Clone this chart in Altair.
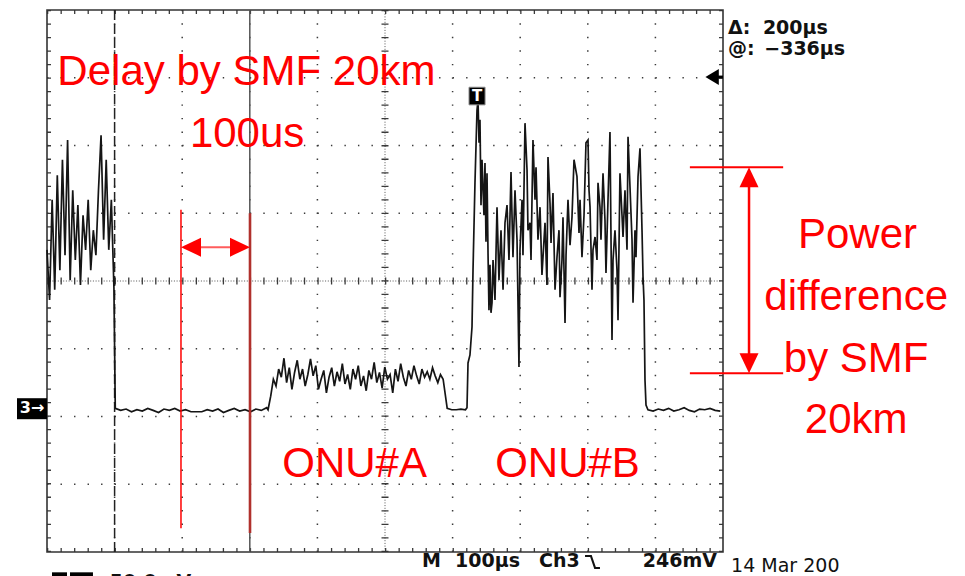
import altair as alt
import pandas as pd
import numpy as np

# ---------------- data (time in µs, level in screen divisions 0..8) ----------------
BURST_SPAN = (0, 99)
BURST = [4.46, 3.72, 5.20, 3.87, 5.56, 4.16, 5.79, 4.38, 6.08, 4.01, 5.34, 4.31, 5.12,
         3.94, 4.97, 4.46, 5.20, 4.16, 4.75, 4.38, 5.34, 6.15, 4.61, 5.79, 4.46, 5.20, 3.90]
GAP1_SPAN = (101, 325)
GAP1 = [2.12, 2.09, 2.11, 2.07, 2.10, 2.08, 2.12, 2.09, 2.06, 2.11, 2.09, 2.12, 2.08, 2.10,
        2.07, 2.07, 2.07, 2.10, 2.08, 2.11, 2.06, 2.09, 2.12, 2.08, 2.10, 2.07, 2.11, 2.09, 2.13]
ONU_A_SPAN = (327, 586)
ONU_A = [2.10, 2.30, 2.55, 2.45, 2.70, 2.58, 2.86, 2.50, 2.72, 2.40, 2.65, 2.83, 2.55, 2.70,
         2.45, 2.62, 2.85, 2.60, 2.75, 2.40, 2.55, 2.68, 2.35, 2.58, 2.72, 2.45, 2.66, 2.52,
         2.78, 2.48, 2.62, 2.40, 2.70, 2.55, 2.75, 2.45, 2.60, 2.38, 2.68, 2.55, 2.80, 2.50,
         2.65, 2.42, 2.73, 2.55, 2.62, 2.35, 2.70, 2.52, 2.78, 2.58, 2.45, 2.68, 2.55, 2.75,
         2.60, 2.48, 2.70, 2.58, 2.66, 2.55, 2.72, 2.60, 2.50, 2.62, 2.55]
GAP2_SPAN = (592, 619)
GAP2 = [2.12, 2.10, 2.10, 2.11, 2.10]
ONU_B = [(621.3, 2.13), (622.8, 2.79), (625.7, 2.91), (628.7, 3.32), (630.2, 4.16),
         (633.1, 5.45), (636.1, 6.52), (637.6, 6.67), (639.1, 6.04), (640.5, 6.38),
         (642.0, 5.12), (643.5, 5.79), (646.4, 4.97), (647.9, 5.74), (649.4, 4.58),
         (650.9, 5.59), (652.4, 4.41), (653.8, 3.57), (655.3, 4.24), (656.8, 3.53),
         (658.3, 3.68), (659.8, 4.31), (662.7, 3.72), (665.7, 5.09), (668.6, 4.01),
         (671.6, 4.75), (674.6, 3.87), (677.5, 4.86), (680.5, 5.12), (683.4, 4.31),
         (686.4, 5.61), (689.3, 4.35), (692.3, 5.34), (695.3, 4.61), (698.2, 2.73),
         (699.7, 4.46), (702.7, 5.20), (704.1, 4.38), (707.1, 6.33), (710.1, 5.64),
         (711.5, 4.75), (714.5, 4.86), (716.0, 4.31), (718.9, 6.08), (721.9, 5.20),
         (723.4, 5.68), (726.3, 4.61), (729.3, 5.09), (732.2, 4.09), (736.7, 4.86),
         (739.6, 3.94), (741.1, 5.83), (744.1, 5.15), (745.6, 4.56), (748.5, 5.30),
         (751.5, 3.87), (754.4, 4.35), (757.4, 4.75), (758.9, 3.76), (761.8, 4.31),
         (763.3, 4.94), (766.3, 3.38), (767.8, 4.38), (770.7, 5.20), (773.7, 4.53),
         (776.6, 4.94), (779.6, 5.79), (784.0, 5.54), (787.0, 4.71), (788.5, 5.20),
         (791.4, 4.35), (794.4, 4.97), (797.3, 6.04), (800.3, 6.08), (801.8, 5.34),
         (803.3, 5.09), (806.2, 3.87), (807.7, 4.46), (810.7, 4.65), (813.6, 4.31),
         (815.1, 5.45), (818.0, 5.09), (819.5, 4.61), (822.5, 5.59), (825.4, 4.90),
         (826.9, 4.12), (829.9, 5.20), (832.8, 6.20), (835.8, 3.13), (837.3, 4.31),
         (840.2, 4.75), (843.2, 4.16), (844.7, 3.42), (847.6, 5.59), (850.6, 4.97),
         (852.1, 4.65), (855.0, 5.34), (858.0, 4.46), (859.5, 6.13), (862.4, 5.39),
         (865.4, 4.61), (866.9, 3.68), (869.8, 4.75), (871.3, 4.35), (874.3, 5.54),
         (877.2, 5.96), (880.2, 4.75), (881.7, 4.06), (883.1, 3.72), (884.6, 2.54),
         (886.1, 2.17)]
GAP3_SPAN = (889, 996)
GAP3 = [2.10, 2.08, 2.11, 2.09, 2.12, 2.08, 2.10, 2.13, 2.09, 2.07, 2.11, 2.10, 2.12, 2.09, 2.08]

V_GRID = [100, 200, 300, 400, 600, 700, 800, 900]
H_GRID = [1, 2, 3, 5, 6, 7]
CURSORS = [100, 300]

RED_TEXT = ["Delay by SMF 20km", "100us", "Power", "difference", "by SMF", "20km", "ONU#A", "ONU#B"]
SCOPE_TEXT = ["Δ:", "200µs", "@:", "−336µs", "M", "100µs", "Ch3", "246mV", "14 Mar 200", "50.0mV"]

# ---------------- build trace ----------------
rows = []
def seg(span, vals):
    ts = np.linspace(span[0], span[1], len(vals))
    for t, v in zip(ts, vals):
        rows.append((float(t), v))
seg(BURST_SPAN, BURST)
seg(GAP1_SPAN, GAP1)
seg(ONU_A_SPAN, ONU_A)
seg(GAP2_SPAN, GAP2)
rows.extend(ONU_B)
seg(GAP3_SPAN, GAP3)
trace = pd.DataFrame(rows, columns=["t", "v"])
trace["i"] = range(len(trace))

XS = alt.Scale(domain=[0, 1000], nice=False, zero=False)
YS = alt.Scale(domain=[0, 8], nice=False, zero=False)

def X(f):
    return alt.X(f, type="quantitative", scale=XS, axis=None)

def Y(f):
    return alt.Y(f, type="quantitative", scale=YS, axis=None)

def vrules(ts, a, b, **mk):
    df = pd.DataFrame({"t": ts, "a": a, "b": b})
    return alt.Chart(df).mark_rule(**mk).encode(x=X("t"), y=Y("a"), y2=alt.Y2("b"))

def hrules(ds, a, b, **mk):
    df = pd.DataFrame({"d": ds, "a": a, "b": b})
    return alt.Chart(df).mark_rule(**mk).encode(y=Y("d"), x=X("a"), x2=alt.X2("b"))

def label(text, t, d, **mk):
    df = pd.DataFrame({"t": [t], "d": [d], "s": [text]})
    return alt.Chart(df).mark_text(**mk).encode(x=X("t"), y=Y("d"), text="s:N")

def point(t, d, **mk):
    df = pd.DataFrame({"t": [t], "d": [d]})
    return alt.Chart(df).mark_point(**mk).encode(x=X("t"), y=Y("d"))

def box(t0, t1, d0, d1, **mk):
    df = pd.DataFrame({"a": [t0], "b": [t1], "c": [d0], "e": [d1]})
    return alt.Chart(df).mark_rect(**mk).encode(x=X("a"), x2=alt.X2("b"), y=Y("c"), y2=alt.Y2("e"))

GRID = "#3a3a3a"
DOT = [1.4, 12.12]
TICK = [1.3, 12.22]
layers = []
# dotted grid
layers.append(vrules(V_GRID, 0, 8, color=GRID, strokeWidth=1.5, strokeDash=DOT))
layers.append(hrules(H_GRID, 0, 1000, color=GRID, strokeWidth=1.5, strokeDash=DOT))
# centre cross with fine dots and ticks
layers.append(vrules([500], 0, 8, color="#555", strokeWidth=1, strokeDash=[1, 1.7]))
layers.append(hrules([4], 0, 1000, color="#555", strokeWidth=1, strokeDash=[1, 1.7]))
layers.append(vrules([500], 0, 8, color=GRID, strokeWidth=7, strokeDash=TICK))
layers.append(hrules([4], 0, 1000, color=GRID, strokeWidth=7, strokeDash=TICK))
# border ticks
layers.append(vrules([0], 0, 8, color=GRID, strokeWidth=4, strokeDash=TICK, xOffset=2))
layers.append(vrules([1000], 0, 8, color=GRID, strokeWidth=4, strokeDash=TICK, xOffset=-2))
layers.append(hrules([8], 0, 1000, color=GRID, strokeWidth=4, strokeDash=TICK, yOffset=2))
layers.append(hrules([0], 0, 1000, color=GRID, strokeWidth=4, strokeDash=TICK, yOffset=-2))
# frame
layers.append(box(0, 1000, 0, 8, fillOpacity=0, stroke="#333", strokeWidth=1.6))
# cursors
layers.append(vrules([CURSORS[0]], 0, 8, color="#222", strokeWidth=1.5, strokeDash=[10, 4]))
layers.append(vrules([CURSORS[1]], 0, 8, color="#555", strokeWidth=1.5))
# waveform
layers.append(alt.Chart(trace).mark_line(color="#151515", strokeWidth=1.7).encode(
    x=X("t"), y=Y("v"), order="i:Q"))

# scope markers
layers.append(box(-44.4, 0, 1.96, 2.27, color="black"))
layers.append(label("3→", -22, 2.12, color="white", font="DejaVu Sans", fontWeight="bold", fontSize=16,
                    align="center", baseline="middle"))
layers.append(box(624.3, 648, 6.60, 6.86, color="black", stroke="#888", strokeWidth=1))
layers.append(label("T", 636.2, 6.73, color="white", font="DejaVu Sans", fontWeight="bold", fontSize=15,
                    align="center", baseline="middle"))
layers.append(hrules([7.01], 985, 1000, color="black", strokeWidth=3))
layers.append(point(974, 7.01, shape="M 0 0 L 2 -1.2 L 2 1.2 Z", size=180, filled=True, color="black",
                    opacity=1))
# channel-scale icons at the lower edge (mostly cut off, as in the screenshot)
layers.append(box(7.4, 29.6, -0.56, -0.30, color="black"))
layers.append(box(34, 68, -0.56, -0.30, color="black"))

# scope texts
TXT = dict(color="#111", font="DejaVu Sans", fontWeight="bold", fontSize=19, baseline="middle",
           align="left")
layers.append(label(SCOPE_TEXT[0], 1007.4, 7.74, **TXT))
layers.append(label(SCOPE_TEXT[1], 1059, 7.74, **TXT))
layers.append(label(SCOPE_TEXT[2], 1007.4, 7.43, **TXT))
layers.append(label(SCOPE_TEXT[3], 1061, 7.43, **TXT))
layers.append(label(SCOPE_TEXT[4], 554.7, -0.13, **TXT))
layers.append(label(SCOPE_TEXT[5], 603.6, -0.13, **TXT))
layers.append(label(SCOPE_TEXT[6], 727.8, -0.13, **TXT))
layers.append(label(SCOPE_TEXT[7], 991, -0.13, color="#111", font="DejaVu Sans", fontWeight="bold",
                    fontSize=19, baseline="middle", align="right"))
layers.append(label(SCOPE_TEXT[8], 1012, -0.21, color="#111", font="DejaVu Sans",
                    fontSize=19, baseline="middle", align="left"))
layers.append(label(SCOPE_TEXT[9], 93, -0.45, **TXT))
edge = pd.DataFrame({"t": [795.9, 804.7, 810.7, 818.0], "d": [-0.06, -0.06, -0.235, -0.235]})
layers.append(alt.Chart(edge).mark_line(color="#111", strokeWidth=2).encode(x=X("t"), y=Y("d")))

# red annotations
RED = "#ff0000"
layers.append(vrules([198.2], 0.35, 5.05, color=RED, strokeWidth=1.5))
layers.append(vrules([300.3], 0.28, 5.0, color="#b0302c", strokeWidth=2.6))
layers.append(hrules([4.50], 205, 293, color="#ff5c5c", strokeWidth=2))
layers.append(point(198.2, 4.50, shape="M 0 0 L 2 -0.95 L 2 0.95 Z", size=400, filled=True, color=RED, opacity=1))
layers.append(point(300.3, 4.50, shape="M 0 0 L -2 -0.95 L -2 0.95 Z", size=400, filled=True, color=RED, opacity=1))

layers.append(hrules([5.68, 2.64], 951, 1089, color=RED, strokeWidth=2))
layers.append(vrules([1038.5], 2.75, 5.55, color=RED, strokeWidth=2.5))
layers.append(point(1038.5, 5.68, shape="M 0 0 L -0.95 2 L 0.95 2 Z", size=400, filled=True, color=RED, opacity=1))
layers.append(point(1038.5, 2.64, shape="M 0 0 L -0.95 -2 L 0.95 -2 Z", size=400, filled=True, color=RED, opacity=1))

RT = dict(color=RED, font="Liberation Sans", fontSize=42, align="center", baseline="alphabetic")
layers.append(label(RED_TEXT[0], 295, 6.89, **RT))
layers.append(label(RED_TEXT[1], 296, 5.98, **RT))
layers.append(label(RED_TEXT[2], 1199, 4.49, **RT))
layers.append(label(RED_TEXT[3], 1197, 3.57, **RT))
layers.append(label(RED_TEXT[4], 1197, 2.66, **RT))
layers.append(label(RED_TEXT[5], 1197, 1.76, **RT))
layers.append(label(RED_TEXT[6], 455, 1.11, **RT))
layers.append(label(RED_TEXT[7], 770, 1.11, **RT))

chart = alt.layer(*layers).properties(
    width=676, height=542,
    padding={"left": 47, "top": 10, "right": 242, "bottom": 24},
    autosize=alt.AutoSizeParams(type="none"),
    background="white",
).configure_view(stroke=None)

chart.save("out.html", embed_options={"renderer": "svg", "actions": False})
